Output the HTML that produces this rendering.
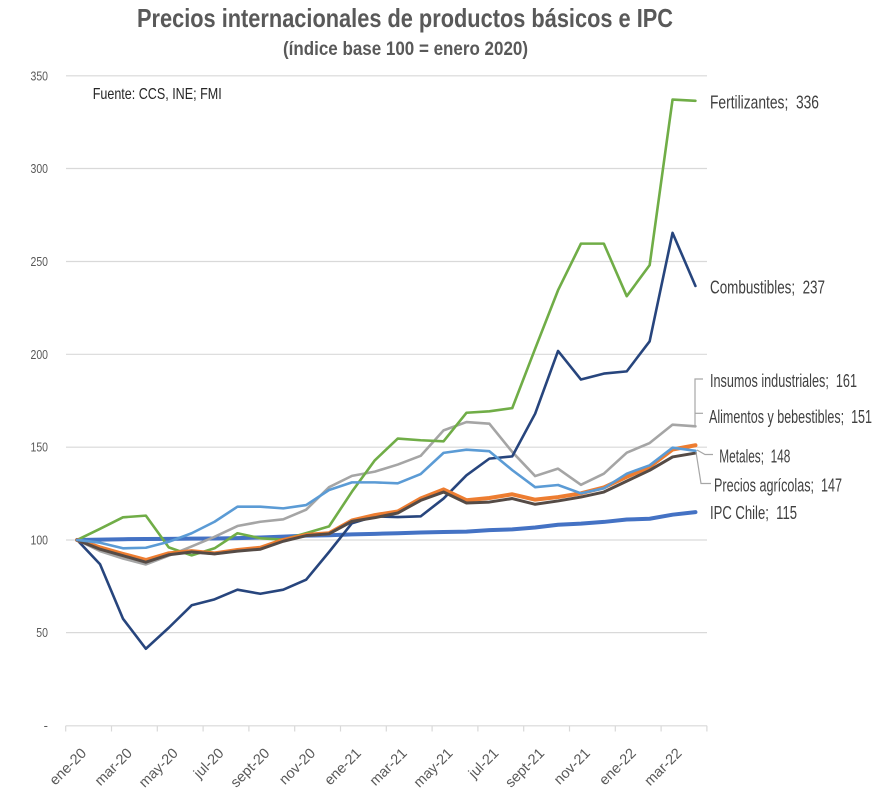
<!DOCTYPE html>
<html><head><meta charset="utf-8"><style>
html,body{margin:0;padding:0;background:#fff;}
svg{display:block;font-family:"Liberation Sans",sans-serif;}
</style></head><body>
<svg width="880" height="796" viewBox="0 0 880 796" xmlns="http://www.w3.org/2000/svg">
<rect width="880" height="796" fill="#fff"/>
<!-- Title -->
<text x="137" y="27" font-size="26" font-weight="bold" fill="#595959" textLength="536" lengthAdjust="spacingAndGlyphs">Precios internacionales de productos básicos e IPC</text>
<text x="283" y="55" font-size="19" font-weight="bold" fill="#595959" textLength="245" lengthAdjust="spacingAndGlyphs">(índice base 100 = enero 2020)</text>

<!-- gridlines -->
<g stroke="#D9D9D9" stroke-width="1.2">
<line x1="66" y1="75.8" x2="707" y2="75.8"/>
<line x1="66" y1="168.5" x2="707" y2="168.5"/>
<line x1="66" y1="261.5" x2="707" y2="261.5"/>
<line x1="66" y1="354.3" x2="707" y2="354.3"/>
<line x1="66" y1="447.2" x2="707" y2="447.2"/>
<line x1="66" y1="540" x2="707" y2="540"/>
<line x1="66" y1="632.6" x2="707" y2="632.6"/>
<line x1="65.7" y1="725.8" x2="707" y2="725.8"/>
<line x1="65.7" y1="725.8" x2="65.7" y2="731.5"/>
<line x1="111.5" y1="725.8" x2="111.5" y2="731.5"/>
<line x1="157.3" y1="725.8" x2="157.3" y2="731.5"/>
<line x1="203.1" y1="725.8" x2="203.1" y2="731.5"/>
<line x1="248.9" y1="725.8" x2="248.9" y2="731.5"/>
<line x1="294.7" y1="725.8" x2="294.7" y2="731.5"/>
<line x1="340.5" y1="725.8" x2="340.5" y2="731.5"/>
<line x1="386.3" y1="725.8" x2="386.3" y2="731.5"/>
<line x1="432.1" y1="725.8" x2="432.1" y2="731.5"/>
<line x1="477.9" y1="725.8" x2="477.9" y2="731.5"/>
<line x1="523.7" y1="725.8" x2="523.7" y2="731.5"/>
<line x1="569.5" y1="725.8" x2="569.5" y2="731.5"/>
<line x1="615.3" y1="725.8" x2="615.3" y2="731.5"/>
<line x1="661.1" y1="725.8" x2="661.1" y2="731.5"/>
<line x1="706.9" y1="725.8" x2="706.9" y2="731.5"/>
</g>

<!-- Y labels -->
<g font-size="13" fill="#595959" text-anchor="end">
<text x="48" y="80.3" textLength="17.5" lengthAdjust="spacingAndGlyphs">350</text>
<text x="48" y="173" textLength="17.5" lengthAdjust="spacingAndGlyphs">300</text>
<text x="48" y="266" textLength="17.5" lengthAdjust="spacingAndGlyphs">250</text>
<text x="48" y="358.8" textLength="17.5" lengthAdjust="spacingAndGlyphs">200</text>
<text x="48" y="451.7" textLength="17.5" lengthAdjust="spacingAndGlyphs">150</text>
<text x="48" y="544.5" textLength="17.5" lengthAdjust="spacingAndGlyphs">100</text>
<text x="48" y="637.1" textLength="11.7" lengthAdjust="spacingAndGlyphs">50</text>
<text x="48" y="730">-</text>
</g>

<!-- X labels -->
<g font-size="14.5" fill="#595959" text-anchor="end">
<text transform="translate(87.2,754) rotate(-45)">ene-20</text>
<text transform="translate(133,754) rotate(-45)">mar-20</text>
<text transform="translate(178.8,754) rotate(-45)">may-20</text>
<text transform="translate(224.6,754) rotate(-45)">jul-20</text>
<text transform="translate(270.4,754) rotate(-45)">sept-20</text>
<text transform="translate(316.2,754) rotate(-45)">nov-20</text>
<text transform="translate(362,754) rotate(-45)">ene-21</text>
<text transform="translate(407.8,754) rotate(-45)">mar-21</text>
<text transform="translate(453.6,754) rotate(-45)">may-21</text>
<text transform="translate(499.4,754) rotate(-45)">jul-21</text>
<text transform="translate(545.2,754) rotate(-45)">sept-21</text>
<text transform="translate(591,754) rotate(-45)">nov-21</text>
<text transform="translate(636.8,754) rotate(-45)">ene-22</text>
<text transform="translate(682.6,754) rotate(-45)">mar-22</text>
</g>

<!-- Fuente -->
<text x="92.7" y="99" font-size="16" fill="#262626" textLength="129" lengthAdjust="spacingAndGlyphs">Fuente: CCS, INE; FMI</text>

<!-- Series -->
<g transform="translate(77.15,725.6) scale(22.9,-1.8566)" fill="none" stroke-linejoin="round" stroke-linecap="round">
<polyline vector-effect="non-scaling-stroke" stroke="#4472C4" stroke-width="4" points="0,100 1,100.2 2,100.4 3,100.5 4,100.6 5,100.7 6,100.8 7,101 8,101.3 9,101.8 10,102.3 11,102.5 12,103 13,103.3 14,103.6 15,104 16,104.3 17,104.5 18,105.3 19,105.7 20,106.7 21,108.2 22,108.8 23,109.7 24,111 25,111.4 26,113.6 27,115"/>
<polyline vector-effect="non-scaling-stroke" stroke="#A5A5A5" stroke-width="2.6" points="0,100 1,94 2,90 3,86.8 4,91.5 5,96.5 6,101.7 7,107.5 8,109.8 9,111.1 10,116.3 11,128.4 12,134.5 13,136.8 14,140.6 15,145.3 16,159 17,163.5 18,162.6 19,147.4 20,134.4 21,138.4 22,129.7 23,135.7 24,147 25,152.2 26,162.1 27,161.2"/>
<polyline vector-effect="non-scaling-stroke" stroke="#70AD47" stroke-width="2.6" points="0,100 1,106 2,112.2 3,113.1 4,96 5,91.7 6,95.5 7,103.6 8,100.9 9,100.2 10,103.7 11,107.3 12,126 13,142.9 14,154.6 15,153.7 16,153.1 17,168.5 18,169.3 19,171 20,203 21,234.5 22,259.6 23,259.6 24,231.3 25,248 26,337.2 27,336.5"/>
<polyline vector-effect="non-scaling-stroke" stroke="#27457D" stroke-width="2.6" points="0,100 1,86.9 2,57.6 3,41.4 4,52.7 5,64.8 6,68 7,73.2 8,71 9,73.2 10,78.6 11,93.5 12,109 13,112.7 14,112.3 15,112.7 16,122.3 17,134.8 18,143.8 19,145 20,168 21,201.8 22,186.4 23,189.6 24,190.8 25,207 26,265.4 27,236.8"/>
<polyline vector-effect="non-scaling-stroke" stroke="#ED7D31" stroke-width="4" points="0,100 1,96 2,92.5 3,89.2 4,92.8 5,94 6,92.8 7,94.6 8,95.8 9,100 10,102.7 11,103.6 12,110.5 13,113.4 14,115.3 15,122.3 16,127.2 17,121.4 18,122.6 19,124.6 20,121.7 21,123.1 22,125.1 23,128.3 24,134 25,139.4 26,148.7 27,151"/>
<polyline vector-effect="non-scaling-stroke" stroke="#554b46" stroke-width="3" points="0,100 1,95 2,91.5 3,88 4,92 5,93.5 6,92.5 7,94 8,95 9,99.3 10,102.3 11,103.3 12,110 13,112 14,114.5 15,121.3 16,125.8 17,119.9 18,120.4 19,122.3 20,119.2 21,121 22,123.1 23,125.8 24,131.7 25,137.5 26,144.7 27,146.8"/>
<polyline vector-effect="non-scaling-stroke" stroke="#5B9BD5" stroke-width="2.6" points="0,100 1,98.5 2,95.5 3,95.8 4,99 5,103.6 6,109.8 7,117.9 8,117.9 9,117 10,118.8 11,126.9 12,131 13,131 14,130.5 15,135.5 16,146.9 17,148.6 18,147.8 19,137.6 20,128.4 21,129.6 22,125.1 23,127.8 24,135.7 25,140.2 26,149.7 27,148"/>
</g>

<!-- leader lines -->
<g stroke="#A6A6A6" stroke-width="1.2" fill="none">
<polyline points="703,379 695,379 695,427"/>
<line x1="695" y1="413.3" x2="703" y2="413.3"/>
<polyline points="697,450 705,454.5 713,454.5"/>
<polyline points="696,452 701,483.5 711,483.5"/>
</g>

<!-- Series labels -->
<g font-size="18" fill="#404040">
<text x="710" y="108.3" textLength="109" lengthAdjust="spacingAndGlyphs">Fertilizantes;&#160; 336</text>
<text x="710" y="293.5" textLength="115" lengthAdjust="spacingAndGlyphs">Combustibles;&#160; 237</text>
<text x="710" y="387.2" textLength="147" lengthAdjust="spacingAndGlyphs">Insumos industriales;&#160; 161</text>
<text x="709" y="423.2" textLength="163" lengthAdjust="spacingAndGlyphs">Alimentos y bebestibles;&#160; 151</text>
<text x="719.3" y="462.5" textLength="71" lengthAdjust="spacingAndGlyphs">Metales;&#160; 148</text>
<text x="714" y="491.5" textLength="128" lengthAdjust="spacingAndGlyphs">Precios agrícolas;&#160; 147</text>
<text x="710" y="519.2" textLength="87" lengthAdjust="spacingAndGlyphs">IPC Chile;&#160; 115</text>
</g>
</svg>
</body></html>
